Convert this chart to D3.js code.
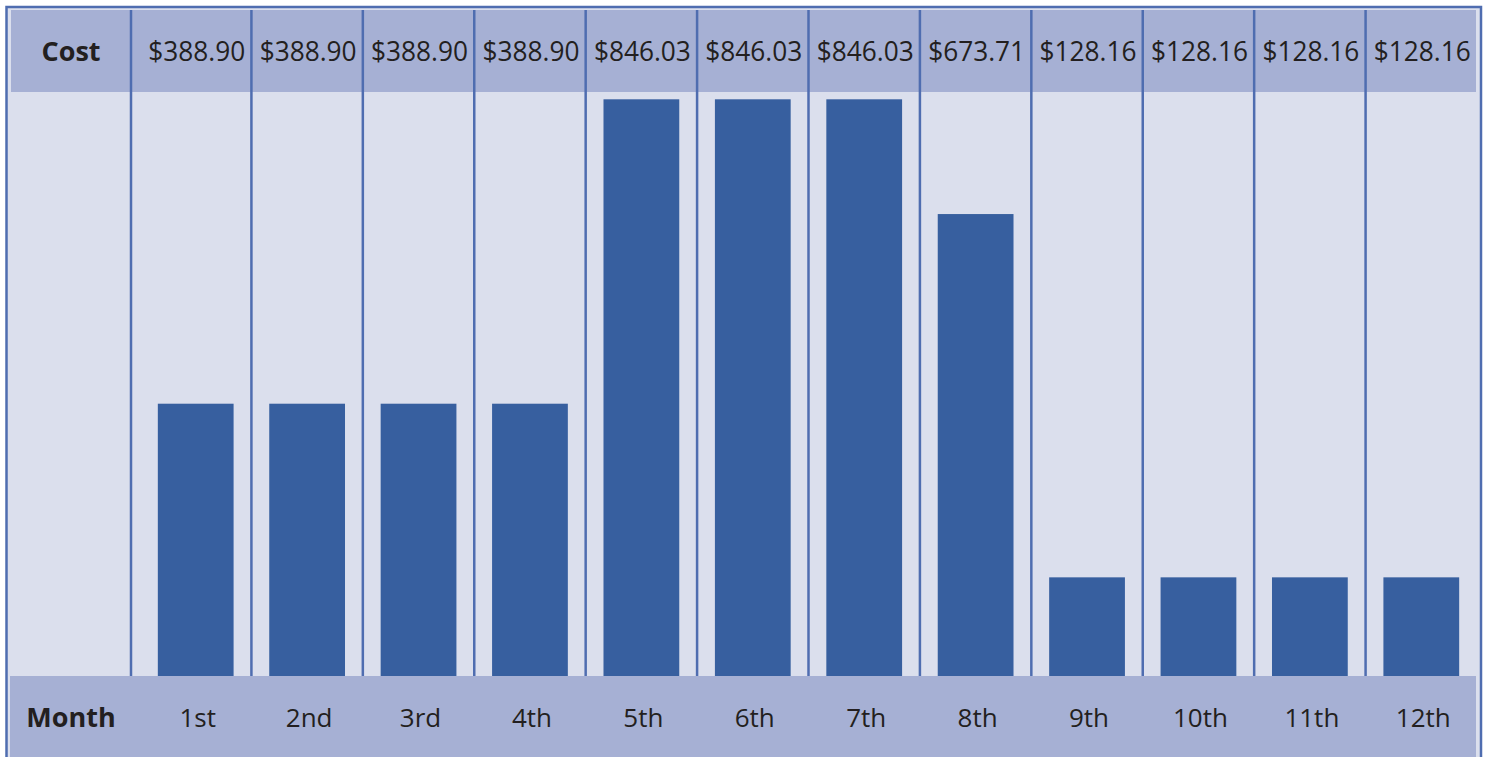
<!DOCTYPE html>
<html>
<head>
<meta charset="utf-8">
<script src="https://cdn.jsdelivr.net/npm/d3@7"></script>
<style>
  body { margin: 0; background: #fff; }
  text { font-family: "Open Sans", sans-serif; fill: #231f20; }
</style>
</head>
<body>
<div id="chart"></div>
<script>
// data
const months = ['1st','2nd','3rd','4th','5th','6th','7th','8th','9th','10th','11th','12th'];
const costs = [388.90, 388.90, 388.90, 388.90, 846.03, 846.03, 846.03, 673.71, 128.16, 128.16, 128.16, 128.16];
const rowLabels = ['Cost', 'Month'];

const width = 1489, height = 757;
const frameColor = '#4f6db0';
const bandColor = '#a6b0d4';
const bgColor = '#dbdfed';
const barColor = '#375f9f';

const headTop = 10, headBottom = 92;   // cost row
const baseY = 676;                     // top of month row
const labelColRight = 130;

const svg = d3.select('#chart').append('svg')
    .attr('width', width)
    .attr('height', height);

// frame + background
svg.append('rect')
    .attr('x', 6.5).attr('y', 7)
    .attr('width', 1474.5).attr('height', 800)
    .attr('fill', bgColor)
    .attr('stroke', frameColor)
    .attr('stroke-width', 2.5);

const x = d3.scaleBand()
    .domain(months)
    .range([140, 1477])
    .paddingInner(0.32)
    .paddingOuter(0.16);

// the printed bars are not quite proportional, so the baseline sits a bit below 0
const y = d3.scaleLinear()
    .domain([-20, 857])
    .range([baseY, headBottom]);

const step = x.step(), bw = x.bandwidth();

// header band
svg.append('rect')
    .attr('x', 11).attr('y', headTop)
    .attr('width', 1465).attr('height', headBottom - headTop)
    .attr('fill', bandColor);

// column dividers
const divX = months.map((m, i) => i === 0 ? labelColRight + 1 : x(m) - (step - bw) / 2);
svg.append('g').selectAll('line')
    .data(divX)
    .enter().append('line')
    .attr('x1', d => d).attr('x2', d => d)
    .attr('y1', headTop).attr('y2', baseY)
    .attr('stroke', frameColor)
    .attr('stroke-width', 2.5);

// bars
svg.append('g').selectAll('rect')
    .data(costs)
    .enter().append('rect')
    .attr('x', (d, i) => x(months[i]))
    .attr('y', d => y(d))
    .attr('width', bw)
    .attr('height', d => baseY - y(d))
    .attr('fill', barColor);

// month band
svg.append('rect')
    .attr('x', 10).attr('y', baseY)
    .attr('width', 1466).attr('height', height - baseY + 10)
    .attr('fill', bandColor);

// row titles
svg.append('g').selectAll('text')
    .data(rowLabels)
    .enter().append('text')
    .attr('x', 71)
    .attr('y', (d, i) => i === 0 ? 61 : 727)
    .attr('text-anchor', 'middle')
    .attr('font-size', 27)
    .attr('font-weight', 700)
    .text(d => d);

// cost labels
svg.append('g').selectAll('text')
    .data(costs)
    .enter().append('text')
    .attr('x', (d, i) => x(months[i]) + bw / 2 + 1)
    .attr('y', 61)
    .attr('text-anchor', 'middle')
    .attr('font-size', 27)
    .attr('textLength', 97)
    .attr('lengthAdjust', 'spacingAndGlyphs')
    .text(d => '$' + d3.format('.2f')(d));

// month labels
svg.append('g').selectAll('text')
    .data(months)
    .enter().append('text')
    .attr('x', d => x(d) + bw / 2 + 2)
    .attr('y', 727)
    .attr('text-anchor', 'middle')
    .attr('font-size', 26)
    .text(d => d);
</script>
</body>
</html>
